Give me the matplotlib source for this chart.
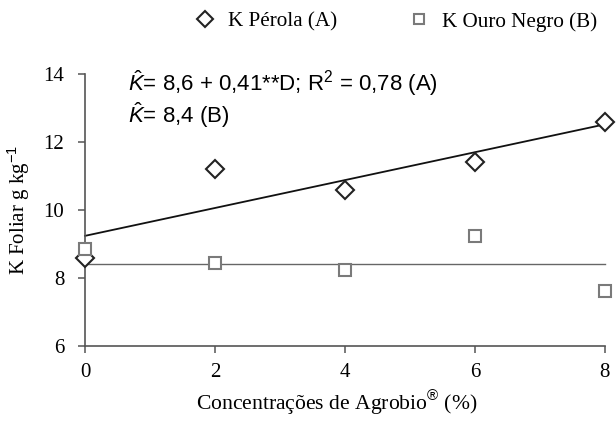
import numpy as np
import matplotlib
matplotlib.use("Agg")
import matplotlib.pyplot as plt
from matplotlib.lines import Line2D

# doses of Agrobio (%) and foliar K (g/kg)
dose = [0, 2, 4, 6, 8]
k_perola = [8.6, 11.2, 10.6, 11.4, 12.6]        # (A)
k_ouro = [8.85, 8.43, 8.25, 9.25, 7.63]         # (B)
k_ouro_mean = 8.4

plt.rcParams["mathtext.fontset"] = "custom"
plt.rcParams["mathtext.rm"] = "Liberation Sans"
plt.rcParams["mathtext.it"] = "Liberation Sans:italic"

SERIF = "Liberation Serif"
SANS = "Liberation Sans"
AX = "#555555"
FS = 15

fig = plt.figure(figsize=(6.16, 4.23), dpi=100)
ax = fig.add_axes([0.138, 0.182, 0.844, 0.643])

# fitted line for A, constant for B
b1, b0 = np.polyfit(dose, k_perola, 1)
xs = np.array([dose[0], dose[-1]])
ax.plot(xs, b0 + b1 * xs, color="#111111", lw=1.3, clip_on=False)
ax.plot(xs, [k_ouro_mean, k_ouro_mean], color="#666666", lw=1.0, clip_on=False)

ax.plot(dose, k_perola, ls="none", marker="D", ms=9, mfc="white",
        mec="#222222", mew=1.5, clip_on=False, zorder=3)
ax.plot(dose, k_ouro, ls="none", marker="s", ms=8.5, mfc="white",
        mec="#7a7a7a", mew=1.5, clip_on=False, zorder=3)

ax.set_xlim(0, 8)
ax.set_ylim(6, 14)
ax.set_xticks([0, 2, 4, 6, 8])
ax.set_yticks([6, 8, 10, 12, 14])
for s in ("top", "right"):
    ax.spines[s].set_visible(False)
for s in ("left", "bottom"):
    ax.spines[s].set_color(AX)
    ax.spines[s].set_linewidth(1.2)
ax.tick_params(direction="out", length=5, width=1.1, color=AX,
               labelsize=FS)
ax.tick_params(axis="y", pad=10)
ax.tick_params(axis="x", pad=7)
for lab in ax.get_xticklabels() + ax.get_yticklabels():
    lab.set_fontfamily(SERIF)

ax.set_xlabel("Concentrações de Agrobio$^{®}$ (%)", family=SERIF,
              fontsize=15.6)
ax.xaxis.set_label_coords(0.485, -0.155)
ax.set_ylabel("K Foliar g kg$^{-1}$", family=SERIF, fontsize=FS, labelpad=8)

ax.text(0.083, 0.967, r"$\hat{K}$= 8,6 + 0,41**D; R$^2$ = 0,78 (A)",
        transform=ax.transAxes, family=SANS, fontsize=16, va="center")
ax.text(0.083, 0.849, r"$\hat{K}$= 8,4 (B)",
        transform=ax.transAxes, family=SANS, fontsize=16, va="center")

handles = [
    Line2D([], [], ls="none", marker="D", ms=8, mfc="white", mec="#222222",
           mew=1.5, label="K Pérola (A)"),
    Line2D([], [], ls="none", marker="s", ms=7.5, mfc="white", mec="#7a7a7a",
           mew=1.5, label="K Ouro Negro (B)"),
]
fig.legend(handles=handles, loc="center", bbox_to_anchor=(0.6425, 0.948),
           ncol=2, frameon=False, prop={"family": SERIF, "size": 15.2},
           handletextpad=0.6, columnspacing=3.35, handlelength=1.0)

fig.savefig("out.png", dpi=100)
